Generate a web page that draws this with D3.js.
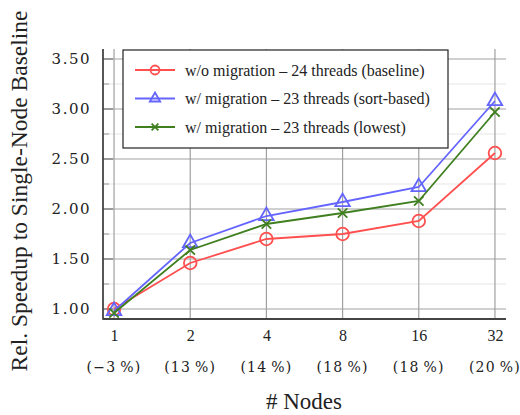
<!DOCTYPE html>
<html>
<head>
<meta charset="utf-8">
<script src="https://cdn.jsdelivr.net/npm/d3@7"></script>
<style>
  body { margin: 0; background: #fff; }
</style>
</head>
<body>
<div id="chart"></div>
<script>
// data
let nodes = ["1", "2", "4", "8", "16", "32"];
let gains = ["(\u22123\u2009%)", "(13\u2009%)", "(14\u2009%)", "(18\u2009%)", "(18\u2009%)", "(20\u2009%)"];
let baseline = [1.00, 1.46, 1.70, 1.75, 1.88, 2.56];
let sortBased = [0.98, 1.66, 1.93, 2.07, 2.22, 3.08];
let lowest = [0.96, 1.59, 1.85, 1.96, 2.08, 2.97];
let yTicks = [1.0, 1.5, 2.0, 2.5, 3.0, 3.5];
let yMinor = [1.25, 1.75, 2.25, 2.75, 3.25];

let series = [
  {name: "w/o migration \u2013 24 threads (baseline)", values: baseline, color: "#ff4f4f", marker: "circle"},
  {name: "w/ migration \u2013 23 threads (sort-based)", values: sortBased, color: "#6464ff", marker: "triangle"},
  {name: "w/ migration \u2013 23 threads (lowest)", values: lowest, color: "#3f7f1f", marker: "cross"}
];

const SERIF = "'Liberation Serif'";
const TICKF = "'DejaVu Serif'";

let W = 520, H = 415;
let margin = {top: 49, right: 14, bottom: 96, left: 103};
let w = W - margin.left - margin.right;
let h = H - margin.top - margin.bottom;

let svg = d3.select("#chart").append("svg")
    .attr("width", W).attr("height", H);
let g = svg.append("g")
    .attr("transform", "translate(" + margin.left + "," + margin.top + ")");

let x = d3.scaleLinear().domain([-0.145, 5.145]).range([0, w]);
let y = d3.scaleLinear().domain([0.9, 3.6]).range([h, 0]);

// grid
g.selectAll(".minor").data(yMinor).enter().append("line")
    .attr("x1", 0).attr("x2", w)
    .attr("y1", d => y(d)).attr("y2", d => y(d))
    .attr("stroke", "#e6e6e6").attr("stroke-width", 1.2);
g.selectAll(".major").data(yTicks).enter().append("line")
    .attr("x1", 0).attr("x2", w)
    .attr("y1", d => y(d)).attr("y2", d => y(d))
    .attr("stroke", "#c0c0c0").attr("stroke-width", 1.4);
g.selectAll(".vgrid").data(nodes).enter().append("line")
    .attr("x1", (d, i) => x(i)).attr("x2", (d, i) => x(i))
    .attr("y1", 0).attr("y2", h)
    .attr("stroke", "#a0a0a0").attr("stroke-width", 1.2);

// inner tick marks on left axis
g.selectAll(".ytick").data(yTicks).enter().append("line")
    .attr("x1", 0).attr("x2", 10)
    .attr("y1", d => y(d)).attr("y2", d => y(d))
    .attr("stroke", "#777").attr("stroke-width", 1.2);
g.selectAll(".ytickm").data(yMinor).enter().append("line")
    .attr("x1", 0).attr("x2", 6)
    .attr("y1", d => y(d)).attr("y2", d => y(d))
    .attr("stroke", "#999").attr("stroke-width", 1);

// axes
let yAxis = d3.axisLeft(y).tickValues(yTicks).tickFormat(d3.format(".2f")).tickSize(0).tickPadding(12);
let ya = g.append("g").call(yAxis);
ya.select(".domain").remove();
ya.selectAll("text").style("font-family", TICKF).style("font-size", "15px")
    .style("letter-spacing", "1.5px").attr("fill", "#222");

let xAxis = d3.axisBottom(x).tickValues(d3.range(nodes.length)).tickFormat(i => nodes[i]).tickSize(0).tickPadding(11);
let xa = g.append("g").attr("transform", "translate(0," + h + ")").call(xAxis);
xa.select(".domain").remove();
xa.selectAll("text").style("font-family", SERIF).style("font-size", "16px").attr("fill", "#222");

g.selectAll(".gain").data(gains).enter().append("text")
    .attr("x", (d, i) => x(i)).attr("y", h + 53)
    .attr("text-anchor", "middle").attr("fill", "#222")
    .style("font-family", TICKF).style("font-size", "14px").style("letter-spacing", "1.2px")
    .text(d => d);

g.append("line").attr("x1", 0).attr("x2", 0).attr("y1", 0).attr("y2", h + 0.75)
    .attr("stroke", "#444").attr("stroke-width", 1.8);
g.append("line").attr("x1", 0).attr("x2", w).attr("y1", h).attr("y2", h)
    .attr("stroke", "#444").attr("stroke-width", 1.8);

// series
let line = d3.line().x((d, i) => x(i)).y(d => y(d));

function drawMarker(sel, type, color, size) {
  if (type === "circle") {
    sel.append("circle").attr("r", size).attr("fill", "none")
       .attr("stroke", color).attr("stroke-width", 1.8);
  } else if (type === "triangle") {
    sel.append("path").attr("d", d3.symbol().type(d3.symbolTriangle).size(size * size * 2.3))
       .attr("fill", "none").attr("stroke", color).attr("stroke-width", 1.8);
  } else {
    let s = size * 0.75;
    sel.append("path").attr("d", "M" + (-s) + "," + (-s) + "L" + s + "," + s + "M" + (-s) + "," + s + "L" + s + "," + (-s))
       .attr("stroke", color).attr("stroke-width", 1.8);
  }
}

series.forEach(s => {
  g.append("path").datum(s.values).attr("d", line)
      .attr("fill", "none").attr("stroke", s.color).attr("stroke-width", 1.8);
  g.selectAll(null).data(s.values).enter().append("g")
      .attr("transform", (d, i) => "translate(" + x(i) + "," + y(d) + ")")
      .each(function() { drawMarker(d3.select(this), s.marker, s.color, 6.3); });
});

// legend
let lg = svg.append("g").attr("transform", "translate(123,50)");
lg.append("rect").attr("width", 325).attr("height", 98)
    .attr("fill", "#fff").attr("stroke", "#222").attr("stroke-width", 1.2);
series.forEach((s, i) => {
  let row = lg.append("g").attr("transform", "translate(0," + (20 + i * 28.5) + ")");
  row.append("line").attr("x1", 12).attr("x2", 52).attr("y1", 0).attr("y2", 0)
      .attr("stroke", s.color).attr("stroke-width", 1.8);
  drawMarker(row.append("g").attr("transform", "translate(32,0)"), s.marker, s.color, 4.5);
  row.append("text").attr("x", 62).attr("y", 5.5).attr("fill", "#222")
      .style("font-family", SERIF).style("font-size", "16px").text(s.name);
});

// axis titles
svg.append("text").attr("x", 304).attr("y", 409)
    .attr("text-anchor", "middle").attr("fill", "#222")
    .style("font-family", SERIF).style("font-size", "23px").text("# Nodes");
svg.append("text").attr("transform", "translate(27,191) rotate(-90)")
    .attr("text-anchor", "middle").attr("fill", "#222")
    .style("font-family", SERIF).style("font-size", "23.5px")
    .text("Rel. Speedup to Single-Node Baseline");
</script>
</body>
</html>
